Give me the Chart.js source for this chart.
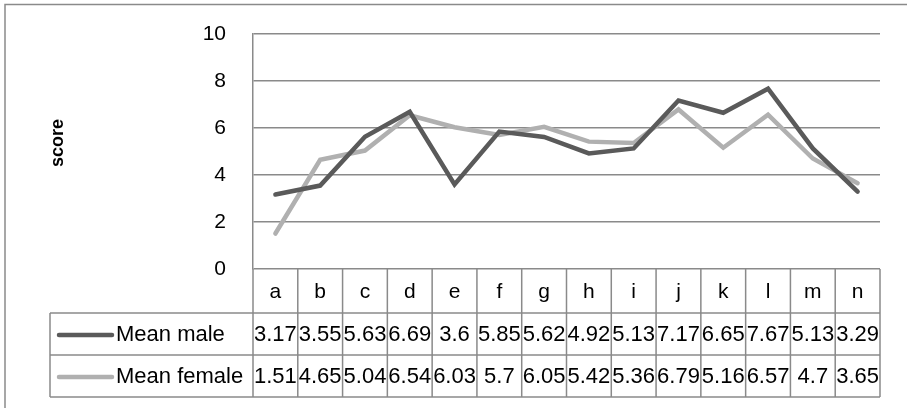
<!DOCTYPE html>
<html>
<head>
<meta charset="utf-8">
<script src="https://cdn.jsdelivr.net/npm/chart.js@4.4.1/dist/chart.umd.min.js"></script>
<style>
  html, body { margin: 0; padding: 0; background: #ffffff; }
  #wrap { position: relative; width: 907px; height: 408px; }
  canvas { display: block; }
</style>
</head>
<body>
<div id="wrap"><canvas id="chart" width="907" height="408"></canvas></div>
<script>
// Category labels and mean scores per group
const categories = ['a', 'b', 'c', 'd', 'e', 'f', 'g', 'h', 'i', 'j', 'k', 'l', 'm', 'n'];
const meanMale   = [3.17, 3.55, 5.63, 6.69, 3.6, 5.85, 5.62, 4.92, 5.13, 7.17, 6.65, 7.67, 5.13, 3.29];
const meanFemale = [1.51, 4.65, 5.04, 6.54, 6.03, 5.7, 6.05, 5.42, 5.36, 6.79, 5.16, 6.57, 4.7, 3.65];
const seriesNames = ['Mean male', 'Mean female'];
const yTicks = [0, 2, 4, 6, 8, 10];
const yTitle = 'score';

const FONT = '"Liberation Sans", Arial, sans-serif';
const GRID = '#8a8a8a';
const MALE_COLOR = '#5a5a5a';
const FEMALE_COLOR = '#b0b0b0';

// Data table under the plot: header row of categories, one row per series
const dataTable = {
  id: 'dataTable',
  afterDraw(chart) {
    const ctx = chart.ctx;
    const x = chart.scales.x;
    const y = chart.scales.y;
    const area = chart.chartArea;
    const n = categories.length;
    const colW = (area.right - area.left) / n;
    const tableLeft = 50;
    const base = y.getPixelForValue(0);
    const rowTop = [base, base + 44, base + 86, base + 128];
    const series = [
      { name: seriesNames[0], values: meanMale, color: MALE_COLOR },
      { name: seriesNames[1], values: meanFemale, color: FEMALE_COLOR }
    ];

    ctx.save();
    // frame around whole chart (top and left edges visible)
    ctx.strokeStyle = '#8a8a8a';
    ctx.lineWidth = 1.5;
    ctx.beginPath();
    ctx.moveTo(5, 420);
    ctx.lineTo(5, 4.5);
    ctx.lineTo(920, 4.5);
    ctx.stroke();

    // grid lines of the table
    ctx.strokeStyle = GRID;
    ctx.lineWidth = 1.5;
    ctx.beginPath();
    for (let k = 0; k <= n; k++) {
      const xx = area.left + k * colW;
      ctx.moveTo(xx, rowTop[0]);
      ctx.lineTo(xx, rowTop[3]);
    }
    ctx.moveTo(tableLeft, rowTop[1]);
    ctx.lineTo(tableLeft, rowTop[3]);
    for (let r = 1; r <= 3; r++) {
      ctx.moveTo(tableLeft, rowTop[r]);
      ctx.lineTo(area.right, rowTop[r]);
    }
    ctx.stroke();

    ctx.fillStyle = '#000000';
    ctx.font = '21px ' + FONT;
    ctx.textAlign = 'center';
    ctx.textBaseline = 'middle';
    categories.forEach((c, i) => {
      ctx.fillText(c, x.getPixelForValue(i), (rowTop[0] + rowTop[1]) / 2 + 1);
    });

    ctx.font = '22px ' + FONT;
    series.forEach((s, r) => {
      const cy = (rowTop[r + 1] + rowTop[r + 2]) / 2 + 1;
      // legend key
      ctx.strokeStyle = s.color;
      ctx.lineWidth = 4.5;
      ctx.lineCap = 'round';
      ctx.beginPath();
      ctx.moveTo(59, cy);
      ctx.lineTo(112, cy);
      ctx.stroke();
      ctx.fillStyle = '#000000';
      ctx.textAlign = 'left';
      ctx.fillText(s.name, 116, cy);
      ctx.textAlign = 'center';
      s.values.forEach((v, i) => {
        ctx.fillText(String(v), x.getPixelForValue(i), cy);
      });
    });

    // axis title
    ctx.save();
    ctx.translate(58, 143);
    ctx.rotate(-Math.PI / 2);
    ctx.font = 'bold 18px ' + FONT;
    ctx.textAlign = 'center';
    ctx.textBaseline = 'middle';
    ctx.fillText(yTitle, 0, 0);
    ctx.restore();
    ctx.restore();
  }
};

new Chart(document.getElementById('chart'), {
  type: 'line',
  data: {
    labels: categories,
    datasets: [
      {
        label: seriesNames[0],
        data: meanMale,
        borderColor: MALE_COLOR,
        borderWidth: 4.5,
        pointRadius: 0,
        tension: 0,
        borderCapStyle: 'round',
        borderJoinStyle: 'miter'
      },
      {
        label: seriesNames[1],
        data: meanFemale,
        borderColor: FEMALE_COLOR,
        borderWidth: 4.5,
        pointRadius: 0,
        tension: 0,
        borderCapStyle: 'round',
        borderJoinStyle: 'miter'
      }
    ]
  },
  options: {
    responsive: false,
    animation: false,
    devicePixelRatio: 1,
    layout: { padding: { top: 34, right: 27, bottom: 139, left: 0 } },
    plugins: {
      legend: { display: false },
      tooltip: { enabled: false }
    },
    scales: {
      x: {
        display: false,
        offset: true
      },
      y: {
        min: 0,
        max: 10,
        afterFit(scale) {
          scale.width = 253;
          scale.paddingTop = 0;
          scale.paddingBottom = 0;
        },
        afterBuildTicks(scale) { scale.ticks = yTicks.map(v => ({ value: v })); },
        ticks: {
          padding: 27,
          color: '#000000',
          font: { family: FONT, size: 21 }
        },
        grid: {
          color: GRID,
          lineWidth: 1.5,
          drawTicks: false
        },
        border: { display: true, color: GRID, width: 1.5 }
      }
    }
  },
  plugins: [dataTable]
});
</script>
</body>
</html>
